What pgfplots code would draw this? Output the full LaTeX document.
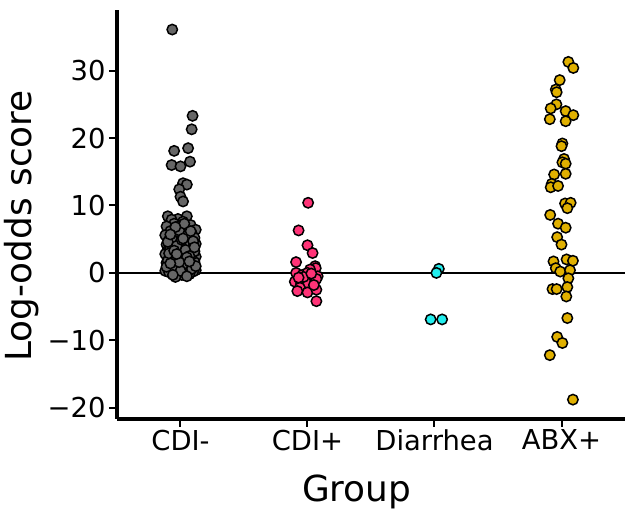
\documentclass[border=0pt]{standalone}
\usepackage{pgfplots}
\pgfplotsset{compat=1.18}
\usepackage{fontspec}
\setmainfont{DejaVu Sans}
\definecolor{cdineg}{HTML}{666666}
\definecolor{cdipos}{HTML}{FF3377}
\definecolor{diar}{HTML}{22EEEE}
\definecolor{abx}{HTML}{E0B000}
\begin{document}
\begin{tikzpicture}
\begin{axis}[
    scale only axis,
    width=508bp, height=408.5bp,
    xmin=0.5, xmax=4.5,
    ymin=-21.6, ymax=39,
    axis x line*=bottom, axis y line*=left,
    axis line style={-, line width=4bp},
    tick align=outside,
    major tick style={line width=2bp, black},
    major tick length=8bp,
    xtick={1,2,3,4},
    xticklabels={CDI-,CDI+,Diarrhea,ABX+},
    ytick={-20,-10,0,10,20,30},
    yticklabels={−20,−10,0,10,20,30},
    ticklabel style={font=\fontsize{27.5}{30}\selectfont},
    xlabel={Group}, ylabel={Log-odds score},
    label style={font=\fontsize{36}{40}\selectfont},
    xlabel style={at={(axis description cs:0.472,-0.202)}, anchor=base},
    ylabel style={at={(axis description cs:-0.187,0.471)}, anchor=center},
    clip=false,
    pts/.style={only marks, mark=*, mark size=5.2bp,
        mark options={draw=black, line width=1.5bp, fill=#1}},
]
\addplot[sharp plot, no marks, black, line width=1.3bp, forget plot] coordinates {(0.5,0) (4.5,0)};

% CDI-
\addplot[pts=cdineg] coordinates {
(0.935,36.1)(1.095,23.3)(1.088,21.3)(0.95,18.1)(1.06,18.5)(0.93,16.0)(1.0,15.8)
(1.075,16.5)(1.02,13.3)(1.05,13.1)(0.99,12.4)(1.0,11.3)(1.02,10.6)
(0.90,8.4)(0.98,8.0)(1.05,8.4)(0.93,7.9)(1.10,6.5)(1.02,7.6)(0.95,7.3)(1.08,7.1)
(0.89,6.9)(1.00,6.6)(1.12,6.4)(0.92,6.2)(1.04,6.0)(0.97,5.9)(1.09,5.8)(0.88,5.6)
(1.01,5.5)(0.94,5.3)(1.11,5.2)(0.99,5.0)(0.91,4.9)(1.06,4.8)(1.03,4.6)(0.96,4.5)
(1.12,4.3)(0.89,4.2)(1.00,4.1)(1.07,3.9)(0.93,3.8)(1.02,3.7)(0.97,3.5)(1.10,3.4)
(0.90,3.3)(1.05,3.1)(0.95,3.0)(1.08,2.9)(0.88,2.8)(1.01,2.6)(0.94,2.5)(1.12,2.4)
(0.98,2.2)(0.91,2.1)(1.06,2.0)(1.03,1.9)(0.96,1.7)(1.11,1.6)(0.89,1.5)(1.00,1.4)
(1.07,1.2)(0.92,1.1)(1.04,1.0)(0.97,0.9)(1.09,0.8)(0.90,0.7)(1.02,0.6)(0.95,0.5)
(1.12,0.4)(0.88,0.3)(1.05,0.2)(0.99,0.1)(0.93,0.0)(1.10,0.2)(1.01,-0.3)(0.96,-0.6)
(1.07,-0.2)(0.91,0.1)(1.04,5.4)(0.92,3.6)(1.09,2.7)(0.98,6.1)(1.03,4.4)(0.90,1.8)
(1.08,0.5)(0.95,2.3)(1.00,7.0)(1.11,3.2)(0.94,0.8)
(0.99,6.3)(1.06,5.7)(0.93,5.1)(1.10,4.7)(0.97,4.0)(1.04,3.4)(0.91,2.9)(1.07,2.5)
(0.96,1.9)(1.02,1.3)(0.89,0.9)(1.09,0.6)(1.00,0.3)(0.94,-0.3)(1.05,-0.5)(1.12,1.0)
(0.90,4.6)(1.03,7.3)(0.96,6.8)(1.08,6.2)(0.92,5.7)(1.01,4.9)(1.11,3.8)(0.95,3.3)
(1.05,2.3)(0.99,1.6)(0.92,1.4)(1.07,1.7)(1.02,5.1)(0.97,2.8)
};

% CDI+
\addplot[pts=cdipos] coordinates {
(2.005,10.4)(1.93,6.3)(2.0,4.1)(2.04,2.95)(1.91,1.6)(2.06,1.0)(2.065,0.7)(2.02,0.5)
(1.91,0.0)(1.96,-0.3)(2.0,0.0)(2.08,-0.5)(1.90,-1.3)(1.95,-1.5)(2.0,-1.5)(2.06,-1.0)
(2.07,-0.9)(1.94,-2.2)(1.92,-2.7)(2.0,-2.9)(2.07,-2.5)(2.07,-4.2)(1.97,-0.6)
(2.03,-0.1)(1.93,-0.7)(2.05,-1.8)
};

% Diarrhea
\addplot[pts=diar] coordinates {
(3.034,0.6)(3.015,0.0)(2.97,-6.9)(3.06,-6.9)
};

% ABX+
\addplot[pts=abx] coordinates {
(4.054,31.3)(4.093,30.4)(3.986,28.6)(3.955,27.2)(3.962,26.8)(3.96,25.0)(3.915,24.4)
(4.033,24.0)(4.093,23.4)(3.908,22.8)(4.033,22.5)(4.007,19.2)(4.0,18.8)(4.02,16.9)
(4.007,16.4)(4.033,16.2)(4.033,14.7)(3.942,14.6)(3.923,13.2)(3.915,12.7)(3.973,12.9)
(4.028,10.3)(4.072,10.4)(4.046,9.6)(3.911,8.6)(3.973,7.3)(4.033,6.7)(3.966,5.3)
(4.0,4.2)(3.937,1.7)(4.04,2.0)(4.09,1.8)(3.955,0.7)(3.99,0.2)(4.067,0.4)(4.054,-0.8)
(4.046,-2.1)(3.929,-2.4)(3.962,-2.4)(4.038,-3.5)(4.046,-6.7)(3.966,-9.5)(4.007,-10.4)
(3.908,-12.2)(4.09,-18.8)
};
\end{axis}
\pgfresetboundingbox
\path ([xshift=-117bp,yshift=-93.5bp]current axis.south west) rectangle ++(625bp,512bp);
\end{tikzpicture}
\end{document}
